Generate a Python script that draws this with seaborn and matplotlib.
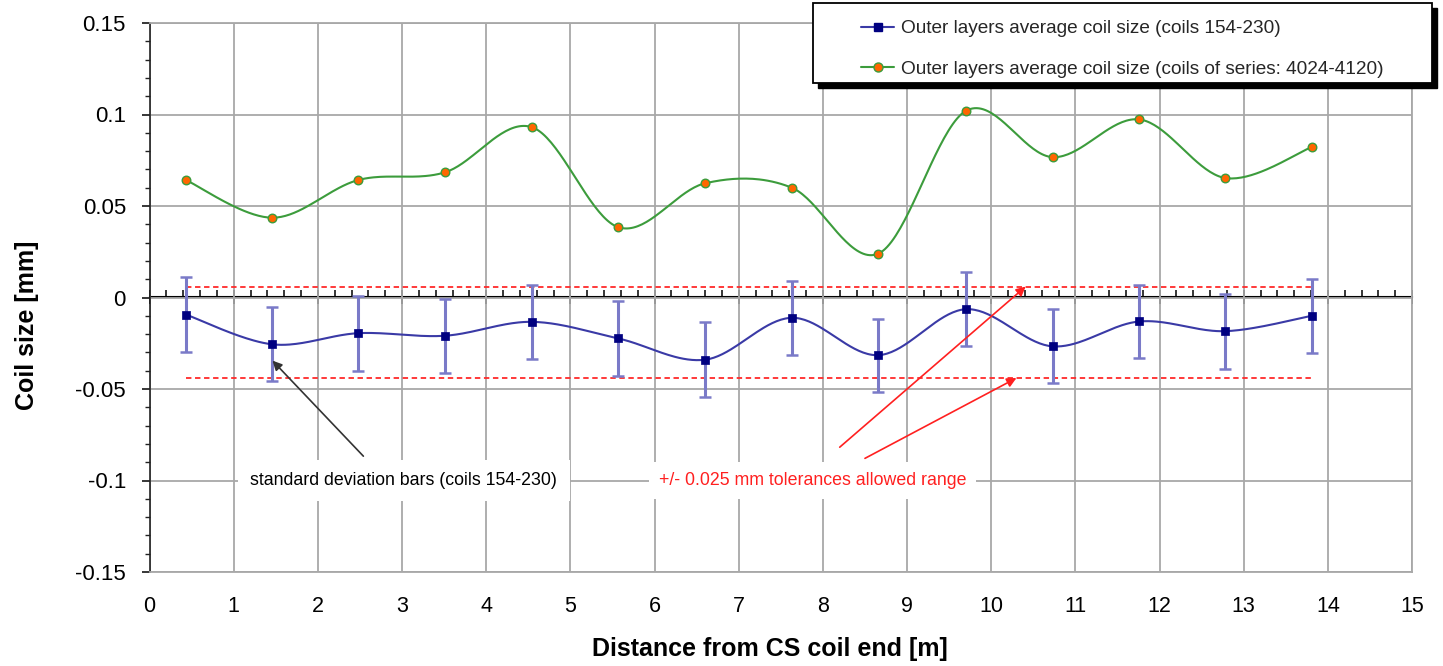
import numpy as np
import matplotlib
matplotlib.use("Agg")
import matplotlib.pyplot as plt
import seaborn as sns
from matplotlib.ticker import MultipleLocator, FuncFormatter
from matplotlib.lines import Line2D
from matplotlib.patches import Rectangle

# ---------------- data ----------------
positions = [0.43, 1.46, 2.48, 3.51, 4.54, 5.57, 6.60, 7.63, 8.66, 9.70, 10.73, 11.76, 12.78, 13.81]
blue_mean = [-0.0093, -0.0256, -0.0195, -0.0209, -0.0133, -0.0224, -0.0340,
             -0.0111, -0.0315, -0.0064, -0.0267, -0.0131, -0.0184, -0.0100]
blue_std = [0.0203, 0.0202, 0.0205, 0.0202, 0.0203, 0.0205, 0.0205,
            0.0202, 0.0200, 0.0202, 0.0202, 0.0201, 0.0205, 0.0203]
green_mean = [0.0642, 0.0436, 0.0642, 0.0684, 0.0931, 0.0384, 0.0624,
              0.0600, 0.0240, 0.1020, 0.0767, 0.0973, 0.0653, 0.0822]
tol_center = -0.019
tol = 0.025
x_ticks = list(range(0, 16))
y_ticks = [-0.15, -0.1, -0.05, 0.0, 0.05, 0.1, 0.15]
label_blue = "Outer layers average coil size (coils 154-230)"
label_green = "Outer layers average coil size (coils of series: 4024-4120)"
note_std = "standard deviation bars (coils 154-230)"
note_tol = "+/- 0.025 mm tolerances allowed range"


def catmull_rom(x, y, n=40):
    """Smoothed line through the data points (Excel-style smoothing)."""
    P = np.column_stack([x, y]).astype(float)
    P = np.vstack([P[0], P, P[-1]])
    out = []
    t = np.linspace(0, 1, n, endpoint=False)[:, None]
    for i in range(1, len(P) - 2):
        p0, p1, p2, p3 = P[i - 1], P[i], P[i + 1], P[i + 2]
        seg = 0.5 * (2 * p1 + (-p0 + p2) * t + (2 * p0 - 5 * p1 + 4 * p2 - p3) * t ** 2
                     + (-p0 + 3 * p1 - 3 * p2 + p3) * t ** 3)
        out.append(seg)
    out.append(P[-2][None, :])
    out = np.vstack(out)
    return out[:, 0], out[:, 1]


sns.set_theme(style="white")
plt.rcParams["font.family"] = ["Liberation Sans", "DejaVu Sans"]
plt.rcParams["axes.unicode_minus"] = False

W, H = 1443, 666
fig = plt.figure(figsize=(W / 100, H / 100), dpi=100)
x0, x1, yb, yt = 149.6, 1412.0, 572.0, 23.0
ax = fig.add_axes([x0 / W, 1 - yb / H, (x1 - x0) / W, (yb - yt) / H])
ax.set_xlim(0, 15)
ax.set_ylim(-0.15, 0.15)

# grid and frame
ax.set_axisbelow(True)
ax.grid(True, which="major", color="#a8a8a8", lw=1.3)
for s in ["top", "right", "bottom"]:
    ax.spines[s].set_color("#a8a8a8")
    ax.spines[s].set_linewidth(1.3)
ax.spines["left"].set_color("#222222")
ax.spines["left"].set_linewidth(1.2)

ax.set_xticks(x_ticks)
ax.set_xticklabels([str(v) for v in x_ticks])
ax.tick_params(axis="x", which="both", length=0, pad=17, labelsize=15.5, colors="black")
ax.set_yticks(y_ticks)
ax.yaxis.set_minor_locator(MultipleLocator(0.01))
ax.yaxis.set_major_formatter(FuncFormatter(lambda v, p: "%g" % round(v, 3)))
ax.tick_params(axis="y", which="major", direction="out", length=6, width=1.1, pad=11,
               labelsize=16, colors="black", left=True)
ax.tick_params(axis="y", which="minor", direction="out", length=3.5, width=1.0, left=True, color="#222222")

ax.set_ylabel("Coil size [mm]", fontsize=18, fontweight="bold", color="black")
ax.yaxis.set_label_coords((39 - x0) / (x1 - x0), (yb - 325) / (yb - yt))
ax.set_xlabel("Distance from CS coil end [m]", fontsize=18, fontweight="bold", color="black")
ax.xaxis.set_label_coords((770 - x0) / (x1 - x0), -0.119)

# zero line with ticks
sec = ax.secondary_xaxis(0.5)
sec.set_xticks(x_ticks)
sec.xaxis.set_minor_locator(MultipleLocator(0.2))
sec.tick_params(which="major", direction="inout", length=10, width=1.3, color="black",
                labelbottom=False, labeltop=False)
sec.tick_params(which="minor", direction="out", length=5, width=1.1, color="black",
                labelbottom=False, labeltop=False)
for s in sec.spines.values():
    s.set_color("black")
    s.set_linewidth(1.5)

# tolerance lines
ax.hlines([tol_center + tol, tol_center - tol], positions[0], positions[-1],
          colors="#ff2a2a", linestyles=(0, (3, 2)), lw=1.3, zorder=2)

# error bars
ax.errorbar(positions, blue_mean, yerr=blue_std, fmt="none", ecolor="#7a7ac8",
            elinewidth=2.2, capsize=4.5, capthick=1.8, zorder=3)

# smoothed lines
bx, by = catmull_rom(positions, blue_mean)
gx, gy = catmull_rom(positions, green_mean)
sns.lineplot(x=bx, y=by, sort=False, estimator=None, color="#3a3aa6", lw=1.5, ax=ax, zorder=4)
sns.lineplot(x=gx, y=gy, sort=False, estimator=None, color="#3c9c3c", lw=1.5, ax=ax, zorder=4)

# markers
sns.scatterplot(x=positions, y=blue_mean, marker="s", s=40, color="#000080",
                edgecolor="#000080", linewidth=0.5, ax=ax, zorder=5)
sns.scatterplot(x=positions, y=green_mean, marker="o", s=38, color="#ff6600",
                edgecolor="#3c9c3c", linewidth=1.0, ax=ax, zorder=5)

# annotations
ax.annotate("", xy=(positions[1], -0.0345), xytext=(2.54, -0.0867),
            arrowprops=dict(arrowstyle="-|>", color="#333333", lw=1.2, mutation_scale=14,
                            shrinkA=0, shrinkB=0), zorder=6)
ax.annotate("", xy=(10.41, tol_center + tol), xytext=(8.20, -0.0818),
            arrowprops=dict(arrowstyle="-|>", color="#ff2020", lw=1.2, mutation_scale=14,
                            shrinkA=0, shrinkB=0), zorder=6)
ax.annotate("", xy=(10.30, tol_center - tol), xytext=(8.50, -0.0879),
            arrowprops=dict(arrowstyle="-|>", color="#ff2020", lw=1.2, mutation_scale=14,
                            shrinkA=0, shrinkB=0), zorder=6)
ax.text(3.02, -0.1, note_std, ha="center", va="center", fontsize=12.8, color="black",
        bbox=dict(boxstyle="square,pad=0.7", fc="white", ec="none"), zorder=7)
ax.text(7.88, -0.1, note_tol, ha="center", va="center", fontsize=12.8, color="#ff2020",
        bbox=dict(boxstyle="square,pad=0.55", fc="white", ec="none"), zorder=7)

# legend with shadowed frame
lx0, lx1, ly0, ly1 = 813, 1432, 3, 83
fig.add_artist(Rectangle(((lx0 + 5) / W, 1 - (ly1 + 5) / H), (lx1 - lx0) / W, (ly1 - ly0) / H,
                         transform=fig.transFigure, fc="black", ec="black", zorder=3))
fig.add_artist(Rectangle((lx0 / W, 1 - ly1 / H), (lx1 - lx0) / W, (ly1 - ly0) / H,
                         transform=fig.transFigure, fc="white", ec="black", lw=1.3, zorder=4))
handles = [
    Line2D([], [], color="#3a3aa6", lw=1.5, marker="s", ms=6, mfc="#000080", mec="#000080"),
    Line2D([], [], color="#3c9c3c", lw=1.5, marker="o", ms=6.5, mfc="#ff6600", mec="#3c9c3c"),
]
fig.legend(handles, [label_blue, label_green], loc="upper left",
           bbox_to_anchor=(861 / W, 1 - 20 / H), bbox_transform=fig.transFigure,
           frameon=False, fontsize=13.7, handlelength=1.76, handletextpad=0.32,
           labelspacing=1.22, borderpad=0, borderaxespad=0)

fig.savefig("out.png", dpi=100)
